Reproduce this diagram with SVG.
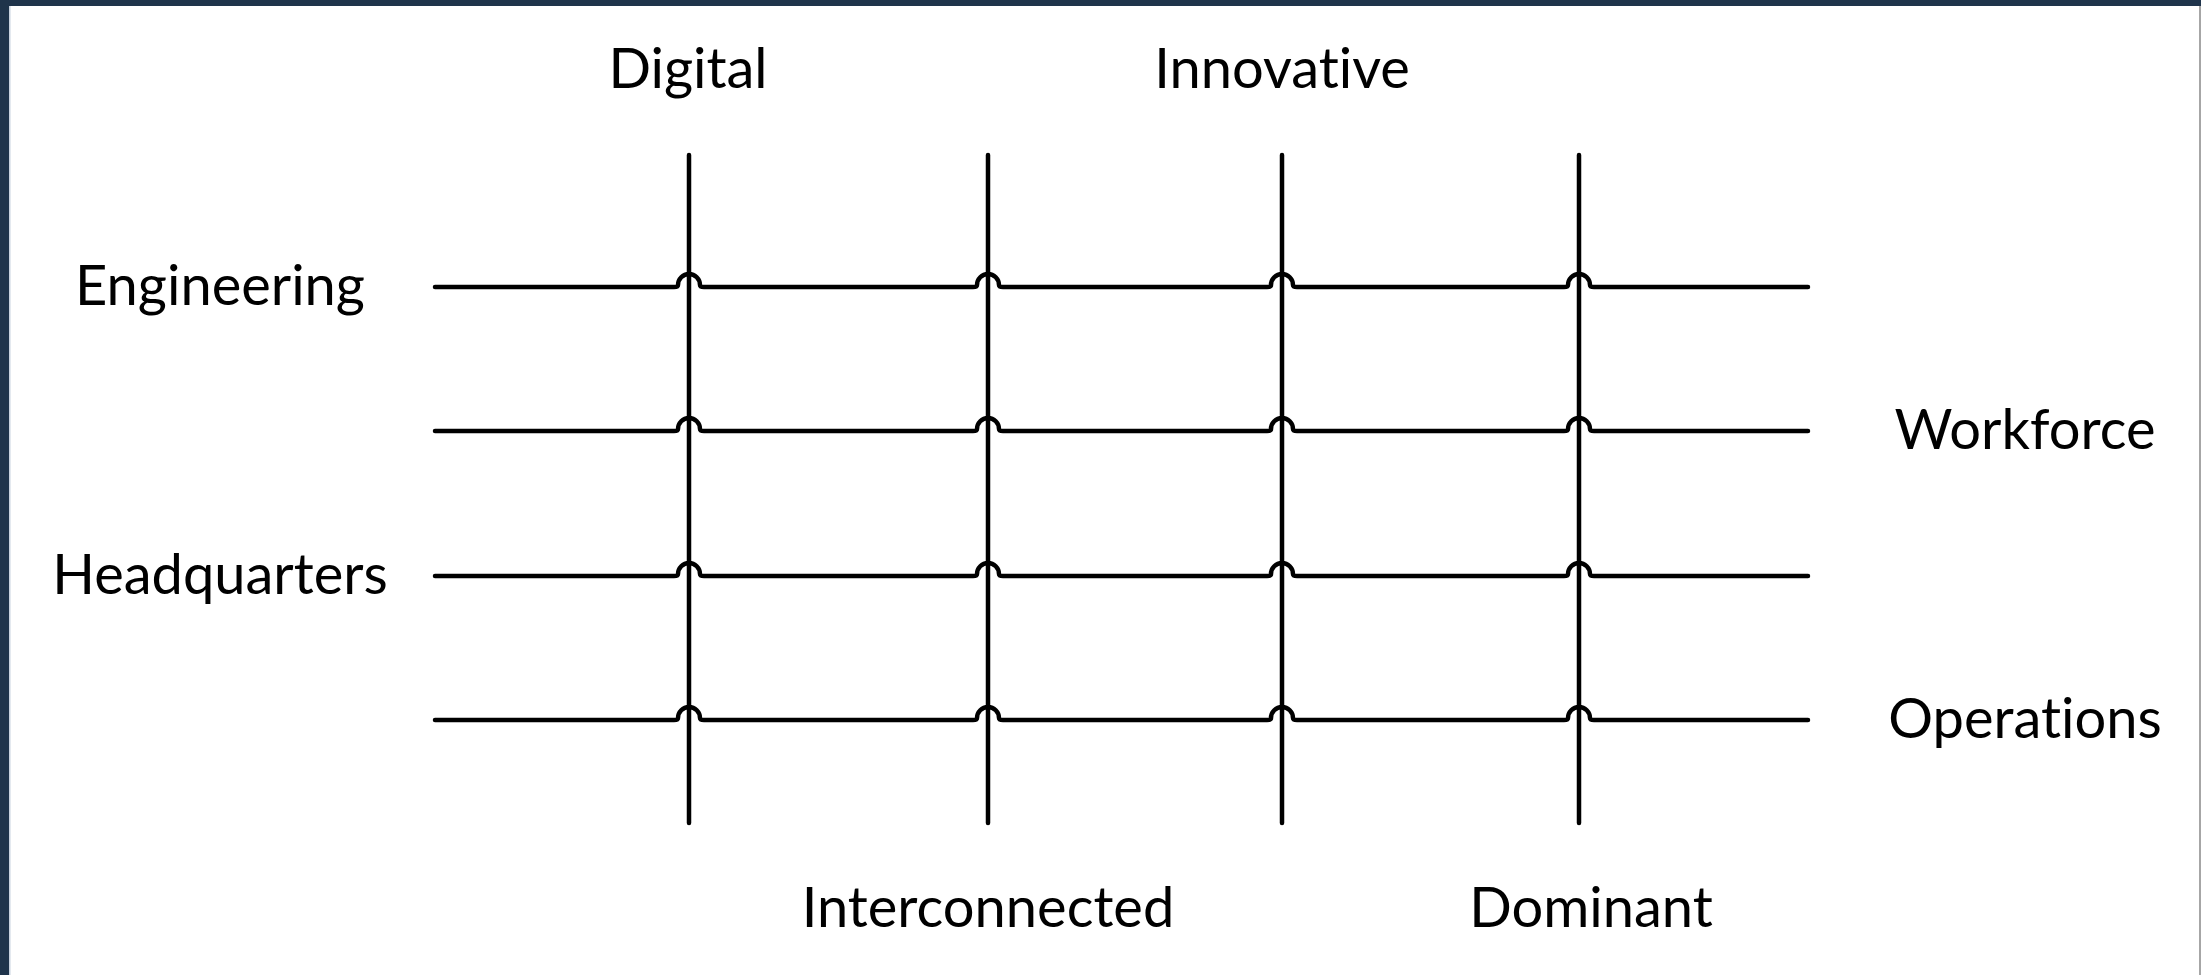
<svg xmlns="http://www.w3.org/2000/svg" width="2201" height="975" viewBox="0 0 2201 975">
<style>
.lbl{font-family:"Lato","Open Sans","Liberation Sans",sans-serif;font-size:56px;fill:#000;text-anchor:middle;font-variant-ligatures:none;font-feature-settings:"liga" 0}
.ln{fill:none;stroke:#000;stroke-width:4.5;stroke-linecap:round;stroke-linejoin:round}
</style>
<rect x="0" y="0" width="2201" height="975" fill="#ffffff"/>
<rect x="0" y="0" width="2201" height="6" fill="#1f344b"/>
<rect x="0" y="0" width="9" height="975" fill="#1f344b"/>
<rect x="9" y="6" width="1.5" height="969" fill="#c9d3df"/>
<rect x="2199" y="6" width="2" height="969" fill="#a6a6a6"/>
<g id="connectors">
<g id="verticals">
<line class="ln" x1="689" y1="155" x2="689" y2="823"/>
<line class="ln" x1="988" y1="155" x2="988" y2="823"/>
<line class="ln" x1="1282" y1="155" x2="1282" y2="823"/>
<line class="ln" x1="1579" y1="155" x2="1579" y2="823"/>
</g>
<g id="horizontals">
<path class="ln" d="M435,287 H674 Q678,287 678,285 A11,11 0 0 1 700,285 Q700,287 704,287 H973 Q977,287 977,285 A11,11 0 0 1 999,285 Q999,287 1003,287 H1267 Q1271,287 1271,285 A11,11 0 0 1 1293,285 Q1293,287 1297,287 H1564 Q1568,287 1568,285 A11,11 0 0 1 1590,285 Q1590,287 1594,287 H1808"/>
<path class="ln" d="M435,431 H674 Q678,431 678,429 A11,11 0 0 1 700,429 Q700,431 704,431 H973 Q977,431 977,429 A11,11 0 0 1 999,429 Q999,431 1003,431 H1267 Q1271,431 1271,429 A11,11 0 0 1 1293,429 Q1293,431 1297,431 H1564 Q1568,431 1568,429 A11,11 0 0 1 1590,429 Q1590,431 1594,431 H1808"/>
<path class="ln" d="M435,576 H674 Q678,576 678,574 A11,11 0 0 1 700,574 Q700,576 704,576 H973 Q977,576 977,574 A11,11 0 0 1 999,574 Q999,576 1003,576 H1267 Q1271,576 1271,574 A11,11 0 0 1 1293,574 Q1293,576 1297,576 H1564 Q1568,576 1568,574 A11,11 0 0 1 1590,574 Q1590,576 1594,576 H1808"/>
<path class="ln" d="M435,720 H674 Q678,720 678,718 A11,11 0 0 1 700,718 Q700,720 704,720 H973 Q977,720 977,718 A11,11 0 0 1 999,718 Q999,720 1003,720 H1267 Q1271,720 1271,718 A11,11 0 0 1 1293,718 Q1293,720 1297,720 H1564 Q1568,720 1568,718 A11,11 0 0 1 1590,718 Q1590,720 1594,720 H1808"/>
</g>
</g>
<g id="digital"><text class="lbl" x="688" y="88">Digital</text></g>
<g id="innovative"><text class="lbl" x="1282" y="88">Innovative</text></g>
<g id="engineering"><text class="lbl" x="220" y="305">Engineering</text></g>
<g id="workforce"><text class="lbl" x="2025" y="449">Workforce</text></g>
<g id="headquarters"><text class="lbl" x="220" y="594">Headquarters</text></g>
<g id="operations"><text class="lbl" x="2025" y="738">Operations</text></g>
<g id="interconnected"><text class="lbl" x="988" y="927">Interconnected</text></g>
<g id="dominant"><text class="lbl" x="1591" y="927">Dominant</text></g>
</svg>
